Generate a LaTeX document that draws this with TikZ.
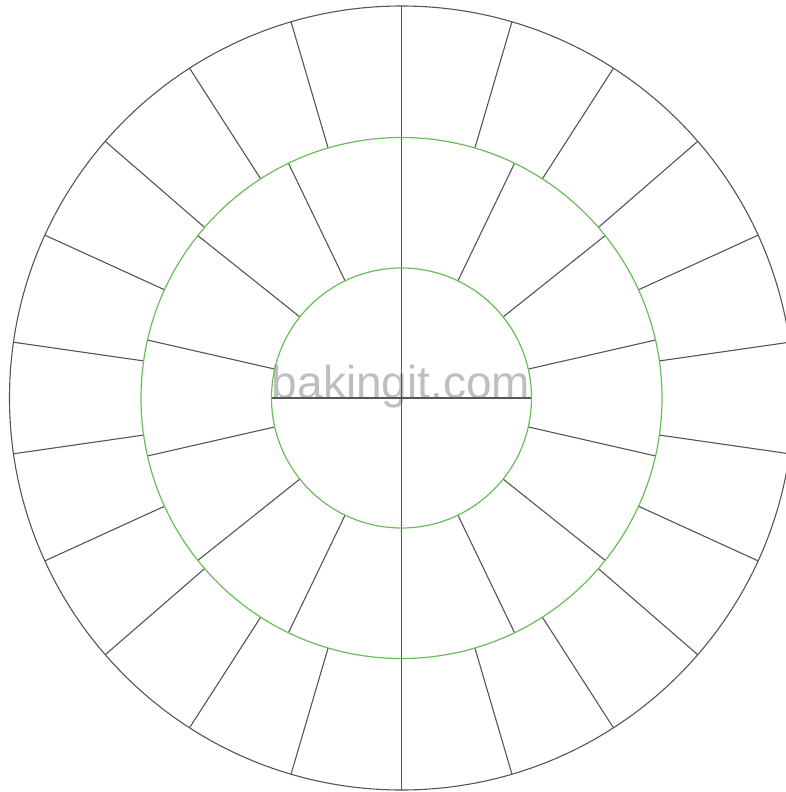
\documentclass[tikz,border=0pt]{standalone}
\usepackage{fontspec}
\setmainfont{Liberation Sans}
\usepackage{xcolor}
\usetikzlibrary{positioning, calc}

\definecolor{ringgreen}{RGB}{104,190,88}
\definecolor{spokegray}{RGB}{85,85,85}
\definecolor{markgray}{RGB}{190,190,190}

\begin{document}
\begin{tikzpicture}[
  x=1pt, y=-1pt,
  spoke/.style={draw=spokegray, line width=1.1pt},
  ring/.style={draw=ringgreen, line width=1.2pt},
  rim/.style={draw=spokegray, line width=1.1pt},
  watermark/.style={font=\fontsize{46}{46}\selectfont, text=markgray, inner sep=0pt, anchor=base}
]
\useasboundingbox (0,0) rectangle (786,792);
\clip (0,0) rectangle (786,792);

% ── Centre ──
\coordinate (c) at (401.5,398);

% ── Watermark ──
\node[watermark] (brand) at (401,398) {bakingit.com};

% ── Outer ring: 22 segments ──
\foreach \i in {1,...,10,12,13,...,21} {
  \draw[spoke] ([shift={(90-\i*360/22:260.5pt)}]c) -- ([shift={(90-\i*360/22:392pt)}]c);
}

% ── Middle ring: 14 segments ──
\foreach \i in {1,...,6,8,9,...,13} {
  \draw[spoke] ([shift={(90-\i*360/14:130pt)}]c) -- ([shift={(90-\i*360/14:260.5pt)}]c);
}

% ── Vertical and horizontal axes ──
\coordinate (top) at ([shift={(90:392pt)}]c);
\coordinate (bot) at ([shift={(-90:392pt)}]c);
\coordinate (lft) at ([shift={(180:130pt)}]c);
\coordinate (rgt) at ([shift={(0:130pt)}]c);
\draw[spoke] (top) -- (bot);
\draw[spoke] (lft) -- (rgt);

% ── Circles ──
\draw[rim] (c) circle (392pt);
\draw[ring] (c) circle (260.5pt);
\draw[ring] (c) circle (130pt);

\end{tikzpicture}
\end{document}
